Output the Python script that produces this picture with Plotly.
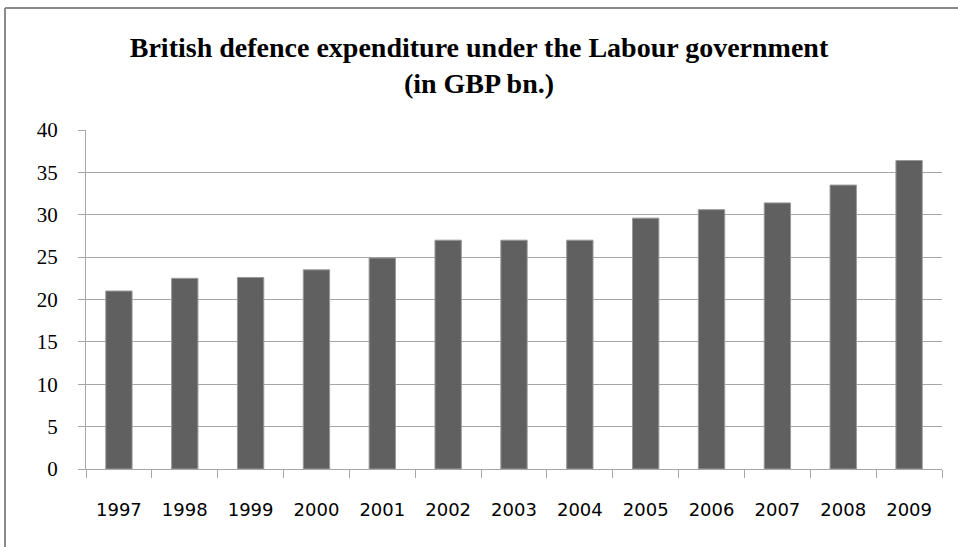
import plotly.graph_objects as go

years = ["1997", "1998", "1999", "2000", "2001", "2002", "2003",
         "2004", "2005", "2006", "2007", "2008", "2009"]
spending = [21.0, 22.5, 22.6, 23.5, 24.9, 27.0, 27.0,
            27.0, 29.6, 30.6, 31.4, 33.5, 36.4]
y_ticks = [0, 5, 10, 15, 20, 25, 30, 35, 40]

W, H = 958, 547
L, R, T, B = 86, 16, 130, 78
pw, ph = W - L - R, H - T - B

fig = go.Figure(go.Bar(
    x=years, y=spending,
    marker=dict(color="#606060", line=dict(color="#9a9a9a", width=1)),
))

grid_col = "#a6a6a6"
fig.update_layout(
    width=W, height=H,
    margin=dict(l=L, r=R, t=T, b=B, pad=0),
    paper_bgcolor="white", plot_bgcolor="white",
    bargap=0.6,
    showlegend=False,
    title=dict(
        text="<b>British defence expenditure under the Labour government<br>(in GBP bn.)</b>",
        x=0.5, xanchor="center", xref="container",
        y=1 - 57 / H, yanchor="top", yref="container",
        font=dict(family="Liberation Serif", size=28, color="black"),
    ),
    xaxis=dict(
        type="category",
        showline=True, linecolor=grid_col, linewidth=1,
        ticks="outside", ticklen=8, tickcolor=grid_col, tickwidth=1,
        tickson="boundaries",
        ticklabelstandoff=24,
        tickfont=dict(family="DejaVu Sans", size=18, color="black"),
        showgrid=False,
    ),
    yaxis=dict(
        range=[0, 40],
        tickvals=y_ticks,
        showline=True, linecolor=grid_col, linewidth=1,
        ticks="outside", ticklen=7, tickcolor=grid_col, tickwidth=1,
        ticklabelstandoff=16,
        tickfont=dict(family="Liberation Serif", size=21, color="black"),
        showgrid=True, gridcolor=grid_col, gridwidth=1,
        zeroline=False,
    ),
    shapes=[
        dict(type="line", xref="paper", yref="paper",
             x0=(5 - L) / pw, x1=(W + 10 - L) / pw,
             y0=1 + (T - 8) / ph, y1=1 + (T - 8) / ph,
             line=dict(color="#8a8a8a", width=2), layer="above"),
        dict(type="line", xref="paper", yref="paper",
             x0=(5 - L) / pw, x1=(5 - L) / pw,
             y0=1 + (T - 8) / ph, y1=-(B + 10) / ph,
             line=dict(color="#8a8a8a", width=2), layer="above"),
    ],
)

fig.write_html("out.html")
